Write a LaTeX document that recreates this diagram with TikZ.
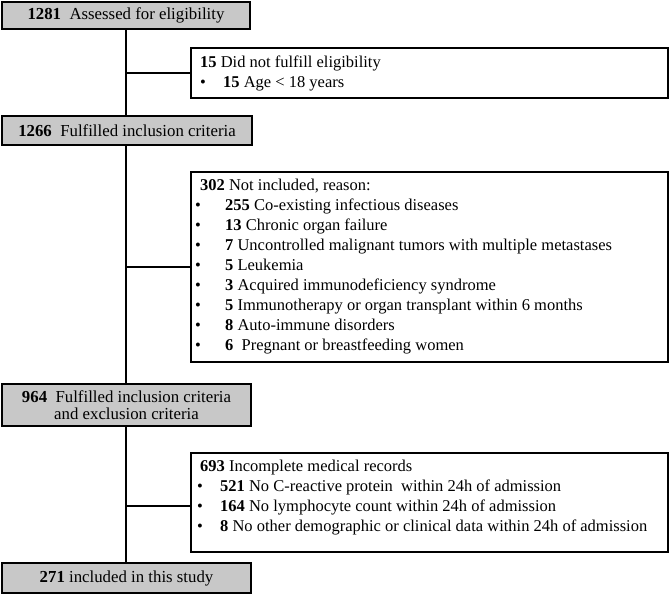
\documentclass[tikz,border=0pt]{standalone}
\usepackage{fontspec}
\setmainfont{Liberation Serif}
\definecolor{boxgray}{RGB}{200,200,200}
\newcommand\bitem[1]{\makebox[23pt][l]{\textbullet}#1}
\begin{document}
\begin{tikzpicture}[x=1pt,y=-1pt,
  graybox/.style={draw=black, line width=1.4pt, fill=boxgray, inner sep=0pt, align=center, font=\fontsize{16.8}{16.5}\selectfont},
  whitebox/.style={draw=black, line width=1.4pt, fill=white, inner sep=0pt},
  listtxt/.style={inner sep=0pt, align=left, font=\fontsize{16.5}{20}\selectfont},
  link/.style={line width=2.8pt}]
\useasboundingbox[fill=white] (0,0) rectangle (669,598);
% main column boxes
\node[graybox, minimum width=248pt, minimum height=27pt] (b1) at (126,15.5) {\textbf{1281}\ \ Assessed for eligibility};
\node[graybox, minimum width=250pt, minimum height=29pt] (b2) at (127,130.5) {\textbf{1266}\ \ Fulfilled inclusion criteria};
\node[graybox, minimum width=249pt, minimum height=42pt] (b3) at (126.5,405) {\textbf{964}\ \ Fulfilled inclusion criteria\\and exclusion criteria};
\node[graybox, minimum width=249pt, minimum height=30pt] (b4) at (126.5,578) {\textbf{271} included in this study};
% side boxes
\node[whitebox, minimum width=477pt, minimum height=50pt] (e1) at (429.5,73) {};
\node[whitebox, minimum width=477pt, minimum height=190pt] (e2) at (429.5,267) {};
\node[whitebox, minimum width=477pt, minimum height=99pt] (e3) at (429.5,502.5) {};
\node[listtxt, anchor=west] (t1) at (200,73) {\textbf{15} Did not fulfill eligibility\\
\bitem{\textbf{15} Age < 18 years}};
\node[listtxt, anchor=west] (t2) at (195,266.5) {\hspace*{5pt}\textbf{302} Not included, reason:\\
\makebox[30pt][l]{\textbullet}\textbf{255} Co-existing infectious diseases\\
\makebox[30pt][l]{\textbullet}\textbf{13} Chronic organ failure\\
\makebox[30pt][l]{\textbullet}\textbf{7} Uncontrolled malignant tumors with multiple metastases\\
\makebox[30pt][l]{\textbullet}\textbf{5} Leukemia\\
\makebox[30pt][l]{\textbullet}\textbf{3} Acquired immunodeficiency syndrome\\
\makebox[30pt][l]{\textbullet}\textbf{5} Immunotherapy or organ transplant within 6 months\\
\makebox[30pt][l]{\textbullet}\textbf{8} Auto-immune disorders\\
\makebox[30pt][l]{\textbullet}\textbf{6}\ \ Pregnant or breastfeeding women};
\node[listtxt, anchor=west] (t3) at (197,497.5) {\hspace*{3pt}\textbf{693} Incomplete medical records\\
\makebox[23pt][l]{\textbullet}\textbf{521} No C-reactive protein\ \ within 24h of admission\\
\makebox[23pt][l]{\textbullet}\textbf{164} No lymphocyte count within 24h of admission\\
\makebox[23pt][l]{\textbullet}\textbf{8} No other demographic or clinical data within 24h of admission};
% connectors
\draw[link] (b1.south) -- (b1.south |- b2.north);
\draw[link] (b1.south |- e1.west) -- (e1.west);
\draw[link] (b1.south |- b2.south) -- (b1.south |- b3.north);
\draw[link] (b1.south |- e2.west) -- (e2.west);
\coordinate (j3) at (126,506);
\draw[link] (b1.south |- b3.south) -- (b1.south |- b4.north);
\draw[link] (j3) -- (j3 -| e3.west);
\end{tikzpicture}
\end{document}
